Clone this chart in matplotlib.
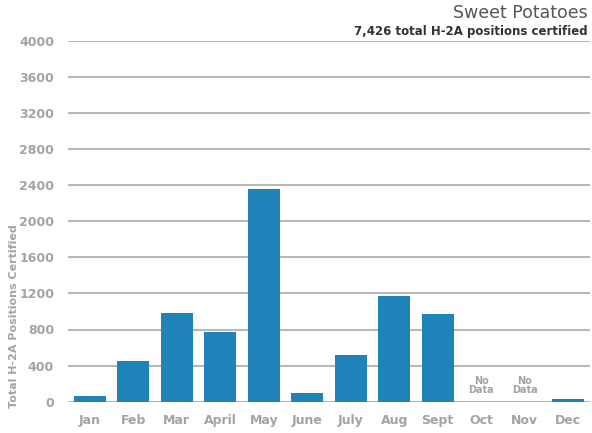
import matplotlib
matplotlib.use("Agg")
from matplotlib import pyplot as plt

months = ['Jan', 'Feb', 'Mar', 'April', 'May', 'June', 'July', 'Aug',
          'Sept', 'Oct', 'Nov', 'Dec']
positions = [62, 450, 985, 772, 2360, 95, 518, 1174, 972, None, None, 28]
yticks = [0, 400, 800, 1200, 1600, 2000, 2400, 2800, 3200, 3600, 4000]

bar_color = '#1f82b8'
grey = '#a3a3a3'

fig = plt.figure(figsize=(5.92, 4.33), dpi=100)
ax = fig.add_axes([68 / 592, (433 - 401.7) / 433, 522 / 592, 361 / 433])

xs = list(range(len(months)))
for x, v in zip(xs, positions):
    if v is None:
        ax.text(x, 180, 'No\nData', ha='center', va='center', fontsize=7,
                fontweight='bold', color=grey, linespacing=0.95)
    else:
        ax.bar(x, v, width=0.73, color=bar_color, zorder=3)

ax.set_xlim(-0.5, 11.5)
ax.set_ylim(0, 4000)
ax.set_yticks(yticks)
ax.set_yticklabels([str(t) for t in yticks])
ax.set_xticks(xs)
ax.set_xticklabels(months)
ax.yaxis.grid(True, color='#b8b8b8', linewidth=1.5, zorder=0)
ax.tick_params(axis='both', length=0, labelsize=9, labelcolor=grey)
ax.tick_params(axis='y', pad=10)
ax.tick_params(axis='x', pad=9)
for lab in ax.get_xticklabels() + ax.get_yticklabels():
    lab.set_fontweight('bold')
for s in ax.spines.values():
    s.set_visible(False)

fig.text(14 / 592, 1 - 316 / 433, 'Total H-2A Positions Certified', rotation=90,
         ha='center', va='center', fontsize=8, fontweight='bold', color=grey)
fig.text(588 / 592, 1 - 13 / 433, 'Sweet Potatoes', ha='right', va='center',
         fontsize=12.5, color='#555555')
fig.text(588 / 592, 1 - 31 / 433, '7,426 total H-2A positions certified',
         ha='right', va='center', fontsize=8.5, fontweight='bold', color='#333333')

fig.savefig('out.png', dpi=100)
